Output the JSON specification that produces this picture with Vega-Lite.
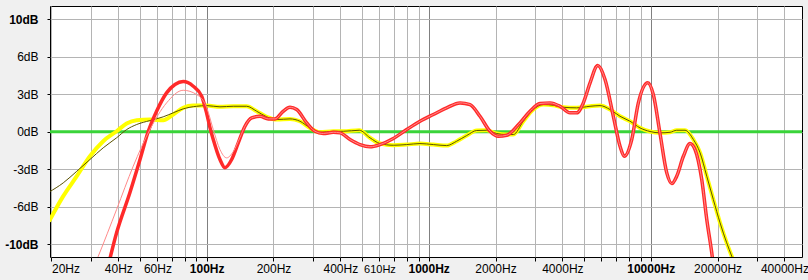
{
  "$schema": "https://vega.github.io/schema/vega-lite/v6.json",
  "width": 752,
  "height": 251,
  "autosize": {"type": "none"},
  "padding": {"left": 50, "top": 6, "right": 6, "bottom": 23},
  "background": "#f0f0f0",
  "view": {"fill": "white", "stroke": "black", "strokeWidth": 1},
  "config": {"font": "Liberation Sans"},
  "datasets": {
    "zero": [{"db": 0}],
    "curves": [
      {"s": "yellow", "f": 19.5, "db": -7.95}, {"s": "yellow", "f": 22.6, "db": -5.71}, {"s": "yellow", "f": 26.0, "db": -3.94}, {"s": "yellow", "f": 29.8, "db": -2.17}, {"s": "yellow", "f": 34.2, "db": -0.83}, {"s": "yellow", "f": 39.3, "db": 0.05}, {"s": "yellow", "f": 43.6, "db": 0.74}, {"s": "yellow", "f": 48.4, "db": 1.03}, {"s": "yellow", "f": 55.5, "db": 1.09}, {"s": "yellow", "f": 63.7, "db": 1.03}, {"s": "yellow", "f": 70.7, "db": 1.54}, {"s": "yellow", "f": 78.4, "db": 2.13}, {"s": "yellow", "f": 87.0, "db": 2.33}, {"s": "yellow", "f": 100, "db": 2.33}, {"s": "yellow", "f": 114.8, "db": 2.22}, {"s": "yellow", "f": 131.8, "db": 2.27}, {"s": "yellow", "f": 151.4, "db": 2.27}, {"s": "yellow", "f": 168.0, "db": 1.83}, {"s": "yellow", "f": 186.4, "db": 1.33}, {"s": "yellow", "f": 206.7, "db": 1.09}, {"s": "yellow", "f": 237.3, "db": 1.15}, {"s": "yellow", "f": 263.2, "db": 0.94}, {"s": "yellow", "f": 292.0, "db": 0.35}, {"s": "yellow", "f": 323.9, "db": -0.04}, {"s": "yellow", "f": 371.8, "db": 0.05}, {"s": "yellow", "f": 412.5, "db": 0.05}, {"s": "yellow", "f": 486.8, "db": 0.14}, {"s": "yellow", "f": 544, "db": -0.53}, {"s": "yellow", "f": 603.5, "db": -1.04}, {"s": "yellow", "f": 692.8, "db": -1.19}, {"s": "yellow", "f": 796, "db": -1.13}, {"s": "yellow", "f": 913.9, "db": -1.04}, {"s": "yellow", "f": 1049, "db": -1.13}, {"s": "yellow", "f": 1205, "db": -1.22}, {"s": "yellow", "f": 1337, "db": -0.83}, {"s": "yellow", "f": 1483, "db": -0.33}, {"s": "yellow", "f": 1645, "db": 0.12}, {"s": "yellow", "f": 1825, "db": 0.14}, {"s": "yellow", "f": 2025, "db": -0.15}, {"s": "yellow", "f": 2246, "db": -0.24}, {"s": "yellow", "f": 2405, "db": -0.24}, {"s": "yellow", "f": 2668, "db": 0.94}, {"s": "yellow", "f": 2960, "db": 1.98}, {"s": "yellow", "f": 3284, "db": 2.42}, {"s": "yellow", "f": 3642, "db": 2.36}, {"s": "yellow", "f": 4040, "db": 2.18}, {"s": "yellow", "f": 4642, "db": 2.13}, {"s": "yellow", "f": 5330, "db": 2.27}, {"s": "yellow", "f": 5911, "db": 2.33}, {"s": "yellow", "f": 6557, "db": 1.98}, {"s": "yellow", "f": 7272, "db": 1.38}, {"s": "yellow", "f": 8068, "db": 0.94}, {"s": "yellow", "f": 8949, "db": 0.35}, {"s": "yellow", "f": 9927, "db": 0.03}, {"s": "yellow", "f": 11010, "db": -0.09}, {"s": "yellow", "f": 12220, "db": -0.04}, {"s": "yellow", "f": 13090, "db": 0.14}, {"s": "yellow", "f": 14270, "db": 0.14}, {"s": "yellow", "f": 15560, "db": -0.68}, {"s": "yellow", "f": 16680, "db": -1.86}, {"s": "yellow", "f": 17880, "db": -3.94}, {"s": "yellow", "f": 19140, "db": -6.01}, {"s": "yellow", "f": 20520, "db": -8.07}, {"s": "yellow", "f": 21990, "db": -9.85}, {"s": "yellow", "f": 23170, "db": -11.04}, {"s": "yellow", "f": 24220, "db": -12.0},

      {"s": "olive", "f": 19.5, "db": -5.35}, {"s": "olive", "f": 22.6, "db": -4.53}, {"s": "olive", "f": 26.0, "db": -3.50}, {"s": "olive", "f": 29.8, "db": -2.46}, {"s": "olive", "f": 34.2, "db": -1.42}, {"s": "olive", "f": 39.3, "db": -0.53}, {"s": "olive", "f": 43.6, "db": 0.20}, {"s": "olive", "f": 48.4, "db": 0.65}, {"s": "olive", "f": 55.5, "db": 1.00}, {"s": "olive", "f": 63.7, "db": 1.33}, {"s": "olive", "f": 70.7, "db": 1.69}, {"s": "olive", "f": 78.4, "db": 2.04}, {"s": "olive", "f": 90.2, "db": 2.27}, {"s": "olive", "f": 100, "db": 2.33}, {"s": "olive", "f": 114.8, "db": 2.22}, {"s": "olive", "f": 131.8, "db": 2.27}, {"s": "olive", "f": 151.4, "db": 2.27}, {"s": "olive", "f": 168.0, "db": 1.83}, {"s": "olive", "f": 186.4, "db": 1.33}, {"s": "olive", "f": 206.7, "db": 1.09}, {"s": "olive", "f": 237.3, "db": 1.15}, {"s": "olive", "f": 263.2, "db": 0.94}, {"s": "olive", "f": 292.0, "db": 0.35}, {"s": "olive", "f": 323.9, "db": -0.04}, {"s": "olive", "f": 371.8, "db": 0.05}, {"s": "olive", "f": 412.5, "db": 0.05}, {"s": "olive", "f": 486.8, "db": 0.14}, {"s": "olive", "f": 544, "db": -0.53}, {"s": "olive", "f": 603.5, "db": -1.04}, {"s": "olive", "f": 692.8, "db": -1.19}, {"s": "olive", "f": 796, "db": -1.13}, {"s": "olive", "f": 913.9, "db": -1.04}, {"s": "olive", "f": 1049, "db": -1.13}, {"s": "olive", "f": 1205, "db": -1.22}, {"s": "olive", "f": 1337, "db": -0.83}, {"s": "olive", "f": 1483, "db": -0.33}, {"s": "olive", "f": 1645, "db": 0.12}, {"s": "olive", "f": 1825, "db": 0.14}, {"s": "olive", "f": 2025, "db": -0.15}, {"s": "olive", "f": 2246, "db": -0.24}, {"s": "olive", "f": 2405, "db": -0.24}, {"s": "olive", "f": 2668, "db": 0.94}, {"s": "olive", "f": 2960, "db": 1.98}, {"s": "olive", "f": 3284, "db": 2.42}, {"s": "olive", "f": 3642, "db": 2.36}, {"s": "olive", "f": 4040, "db": 2.18}, {"s": "olive", "f": 4642, "db": 2.13}, {"s": "olive", "f": 5330, "db": 2.27}, {"s": "olive", "f": 5911, "db": 2.33}, {"s": "olive", "f": 6557, "db": 1.98}, {"s": "olive", "f": 7272, "db": 1.38}, {"s": "olive", "f": 8068, "db": 0.94}, {"s": "olive", "f": 8949, "db": 0.35}, {"s": "olive", "f": 9927, "db": 0.03}, {"s": "olive", "f": 11010, "db": -0.09}, {"s": "olive", "f": 12220, "db": -0.04}, {"s": "olive", "f": 13090, "db": 0.14}, {"s": "olive", "f": 14270, "db": 0.14}, {"s": "olive", "f": 15560, "db": -0.68}, {"s": "olive", "f": 16680, "db": -1.86}, {"s": "olive", "f": 17880, "db": -3.94}, {"s": "olive", "f": 19140, "db": -6.01}, {"s": "olive", "f": 20520, "db": -8.07}, {"s": "olive", "f": 21990, "db": -9.85}, {"s": "olive", "f": 23170, "db": -11.04}, {"s": "olive", "f": 24220, "db": -12.0},

      {"s": "red", "f": 35.9, "db": -12.0}, {"s": "red", "f": 39.3, "db": -8.96}, {"s": "red", "f": 45.1, "db": -5.41}, {"s": "red", "f": 50.1, "db": -2.46}, {"s": "red", "f": 54.6, "db": 0.05}, {"s": "red", "f": 59.5, "db": 1.83}, {"s": "red", "f": 66.0, "db": 3.46}, {"s": "red", "f": 72.0, "db": 4.20}, {"s": "red", "f": 78.4, "db": 4.46}, {"s": "red", "f": 87.0, "db": 4.05}, {"s": "red", "f": 95.0, "db": 3.16}, {"s": "red", "f": 100, "db": 1.65}, {"s": "red", "f": 103.5, "db": 0.38}, {"s": "red", "f": 107.1, "db": -0.68}, {"s": "red", "f": 114.8, "db": -2.46}, {"s": "red", "f": 120.9, "db": -3.19}, {"s": "red", "f": 129.6, "db": -2.46}, {"s": "red", "f": 138.8, "db": -0.98}, {"s": "red", "f": 148.8, "db": 0.50}, {"s": "red", "f": 159.5, "db": 1.24}, {"s": "red", "f": 173.9, "db": 1.38}, {"s": "red", "f": 189.4, "db": 1.15}, {"s": "red", "f": 203.1, "db": 1.15}, {"s": "red", "f": 221.3, "db": 1.83}, {"s": "red", "f": 237.3, "db": 2.18}, {"s": "red", "f": 254.3, "db": 1.98}, {"s": "red", "f": 282.2, "db": 0.80}, {"s": "red", "f": 307.5, "db": 0.05}, {"s": "red", "f": 335.2, "db": -0.15}, {"s": "red", "f": 371.8, "db": -0.04}, {"s": "red", "f": 398.6, "db": -0.09}, {"s": "red", "f": 442.1, "db": -0.68}, {"s": "red", "f": 490.3, "db": -1.13}, {"s": "red", "f": 544, "db": -1.33}, {"s": "red", "f": 603.5, "db": -1.13}, {"s": "red", "f": 692.8, "db": -0.59}, {"s": "red", "f": 796, "db": 0.20}, {"s": "red", "f": 913.9, "db": 0.94}, {"s": "red", "f": 1049, "db": 1.54}, {"s": "red", "f": 1205, "db": 2.13}, {"s": "red", "f": 1384, "db": 2.57}, {"s": "red", "f": 1535, "db": 2.42}, {"s": "red", "f": 1702, "db": 1.38}, {"s": "red", "f": 1889, "db": 0.05}, {"s": "red", "f": 2059, "db": -0.39}, {"s": "red", "f": 2246, "db": -0.30}, {"s": "red", "f": 2578, "db": 0.80}, {"s": "red", "f": 2860, "db": 1.83}, {"s": "red", "f": 3172, "db": 2.51}, {"s": "red", "f": 3519, "db": 2.57}, {"s": "red", "f": 3903, "db": 2.27}, {"s": "red", "f": 4330, "db": 1.69}, {"s": "red", "f": 4642, "db": 1.69}, {"s": "red", "f": 4971, "db": 2.57}, {"s": "red", "f": 5330, "db": 4.35}, {"s": "red", "f": 5772, "db": 5.88}, {"s": "red", "f": 6225, "db": 4.64}, {"s": "red", "f": 6786, "db": 1.38}, {"s": "red", "f": 7272, "db": -1.28}, {"s": "red", "f": 7604, "db": -2.17}, {"s": "red", "f": 8212, "db": -0.68}, {"s": "red", "f": 8794, "db": 2.57}, {"s": "red", "f": 9700, "db": 4.35}, {"s": "red", "f": 10270, "db": 3.31}, {"s": "red", "f": 11010, "db": -0.15}, {"s": "red", "f": 11810, "db": -3.64}, {"s": "red", "f": 12440, "db": -4.59}, {"s": "red", "f": 13090, "db": -3.94}, {"s": "red", "f": 14030, "db": -2.17}, {"s": "red", "f": 15030, "db": -1.04}, {"s": "red", "f": 15830, "db": -1.57}, {"s": "red", "f": 16970, "db": -4.23}, {"s": "red", "f": 17880, "db": -7.78}, {"s": "red", "f": 18830, "db": -10.74}, {"s": "red", "f": 19490, "db": -13.0},

      {"s": "pink", "f": 30.7, "db": -12.2}, {"s": "pink", "f": 32.5, "db": -11.04}, {"s": "pink", "f": 39.3, "db": -6.89}, {"s": "pink", "f": 46.7, "db": -3.05}, {"s": "pink", "f": 55.5, "db": 0.20}, {"s": "pink", "f": 66.0, "db": 2.57}, {"s": "pink", "f": 78.4, "db": 3.69}, {"s": "pink", "f": 90.2, "db": 3.31}, {"s": "pink", "f": 100, "db": 2.16}, {"s": "pink", "f": 107.1, "db": 0.20}, {"s": "pink", "f": 114.8, "db": -1.57}, {"s": "pink", "f": 123.0, "db": -2.31}, {"s": "pink", "f": 131.8, "db": -1.75}, {"s": "pink", "f": 141.3, "db": -0.50}, {"s": "pink", "f": 148.8, "db": 0.50}, {"s": "pink", "f": 159.5, "db": 1.24}, {"s": "pink", "f": 173.9, "db": 1.38}, {"s": "pink", "f": 189.4, "db": 1.15}, {"s": "pink", "f": 203.1, "db": 1.15}, {"s": "pink", "f": 221.3, "db": 1.83}, {"s": "pink", "f": 237.3, "db": 2.18}, {"s": "pink", "f": 254.3, "db": 1.98}, {"s": "pink", "f": 282.2, "db": 0.80}, {"s": "pink", "f": 307.5, "db": 0.05}, {"s": "pink", "f": 335.2, "db": -0.15}, {"s": "pink", "f": 371.8, "db": -0.04}, {"s": "pink", "f": 398.6, "db": -0.09}, {"s": "pink", "f": 442.1, "db": -0.68}, {"s": "pink", "f": 490.3, "db": -1.13}, {"s": "pink", "f": 544, "db": -1.33}, {"s": "pink", "f": 603.5, "db": -1.13}, {"s": "pink", "f": 692.8, "db": -0.59}, {"s": "pink", "f": 796, "db": 0.20}, {"s": "pink", "f": 913.9, "db": 0.94}, {"s": "pink", "f": 1049, "db": 1.54}, {"s": "pink", "f": 1205, "db": 2.13}, {"s": "pink", "f": 1384, "db": 2.57}, {"s": "pink", "f": 1535, "db": 2.42}, {"s": "pink", "f": 1702, "db": 1.38}, {"s": "pink", "f": 1889, "db": 0.05}, {"s": "pink", "f": 2059, "db": -0.39}, {"s": "pink", "f": 2246, "db": -0.30}, {"s": "pink", "f": 2578, "db": 0.80}, {"s": "pink", "f": 2860, "db": 1.83}, {"s": "pink", "f": 3172, "db": 2.51}, {"s": "pink", "f": 3519, "db": 2.57}, {"s": "pink", "f": 3903, "db": 2.27}, {"s": "pink", "f": 4330, "db": 1.69}, {"s": "pink", "f": 4642, "db": 1.69}, {"s": "pink", "f": 4971, "db": 2.57}, {"s": "pink", "f": 5330, "db": 4.35}, {"s": "pink", "f": 5772, "db": 5.88}, {"s": "pink", "f": 6225, "db": 4.64}, {"s": "pink", "f": 6786, "db": 1.38}, {"s": "pink", "f": 7272, "db": -1.28}, {"s": "pink", "f": 7604, "db": -2.17}, {"s": "pink", "f": 8212, "db": -0.68}, {"s": "pink", "f": 8794, "db": 2.57}, {"s": "pink", "f": 9700, "db": 4.35}, {"s": "pink", "f": 10270, "db": 3.31}, {"s": "pink", "f": 11010, "db": -0.15}, {"s": "pink", "f": 11810, "db": -3.64}, {"s": "pink", "f": 12440, "db": -4.59}, {"s": "pink", "f": 13090, "db": -3.94}, {"s": "pink", "f": 14030, "db": -2.17}, {"s": "pink", "f": 15030, "db": -1.04}, {"s": "pink", "f": 15830, "db": -1.57}, {"s": "pink", "f": 16970, "db": -4.23}, {"s": "pink", "f": 17880, "db": -7.78}, {"s": "pink", "f": 18830, "db": -10.74}, {"s": "pink", "f": 19490, "db": -13.0}
    ]
  },
  "layer": [
    {
      "data": {"name": "zero"},
      "mark": {"type": "rule", "color": "#3ad43a", "strokeWidth": 3},
      "encoding": {
        "y": {"field": "db", "type": "quantitative", "scale": {"domain": [-11.11, 11.17], "nice": false, "zero": false}}
      }
    },
    {
      "data": {"name": "curves"},
      "transform": [{"filter": "datum.s == 'yellow'"}],
      "mark": {"type": "line", "color": "#ffff00", "strokeWidth": 4, "interpolate": "monotone", "clip": true},
      "encoding": {
        "x": {
          "field": "f", "type": "quantitative",
          "scale": {"type": "log", "domain": [19.7, 48000], "nice": false},
          "axis": {
            "title": null,
            "values": [20, 30, 40, 50, 60, 70, 80, 90, 100, 200, 300, 400, 500, 600, 700, 800, 900, 1000, 2000, 3000, 4000, 5000, 6000, 7000, 8000, 9000, 10000, 20000, 30000, 40000],
            "labelExpr": "datum.value == 600 ? '610Hz' : (indexof([20, 40, 60, 100, 200, 400, 1000, 2000, 4000, 10000, 20000, 40000], datum.value) >= 0 ? datum.value + 'Hz' : '')",
            "grid": true,
            "gridColor": {"condition": {"test": "datum.value == 100 || datum.value == 1000 || datum.value == 10000", "value": "#808080"}, "value": "#b4b4b4"},
            "gridWidth": 1,
            "domain": false,
            "tickColor": "#000000",
            "tickSize": 4,
            "labelColor": "#000000",
            "labelFont": "Liberation Sans",
            "labelFontSize": {"condition": {"test": "datum.value == 600", "value": 11}, "value": 12},
            "labelFontWeight": {"condition": {"test": "datum.value == 100 || datum.value == 1000 || datum.value == 10000", "value": "bold"}, "value": "normal"},
            "labelPadding": 2,
            "labelOverlap": false,
            "labelFlush": 5,
            "labelBound": false
          }
        },
        "y": {
          "field": "db", "type": "quantitative",
          "scale": {"domain": [-11.11, 11.17], "nice": false, "zero": false},
          "axis": {
            "title": null,
            "values": [-10, -6.6667, -3.3333, 0, 3.3333, 6.6667, 10],
            "labelExpr": "(datum.value < 0 ? '-' : '') + floor(abs(datum.value) + 0.01) + 'dB'",
            "grid": true,
            "gridColor": "#b4b4b4",
            "domain": false,
            "tickColor": "#000000",
            "tickSize": 3,
            "labelColor": "#000000",
            "labelFont": "Liberation Sans",
            "labelFontSize": 12,
            "labelFontWeight": {"condition": {"test": "abs(datum.value) > 9", "value": "bold"}, "value": "normal"},
            "labelPadding": 9,
            "labelOverlap": false
          }
        }
      }
    },
    {
      "data": {"name": "curves"},
      "transform": [{"filter": "datum.s == 'olive'"}],
      "mark": {"type": "line", "color": "#5a5200", "strokeWidth": 1, "interpolate": "monotone", "clip": true},
      "encoding": {
        "x": {"field": "f", "type": "quantitative"},
        "y": {"field": "db", "type": "quantitative"}
      }
    },
    {
      "data": {"name": "curves"},
      "transform": [{"filter": "datum.s == 'red'"}],
      "mark": {"type": "line", "color": "#ff2a2a", "strokeWidth": 3.5, "interpolate": "monotone", "clip": true},
      "encoding": {
        "x": {"field": "f", "type": "quantitative"},
        "y": {"field": "db", "type": "quantitative"}
      }
    },
    {
      "data": {"name": "curves"},
      "transform": [{"filter": "datum.s == 'pink'"}],
      "mark": {"type": "line", "color": "#ff8a8a", "strokeWidth": 1, "interpolate": "monotone", "clip": true},
      "encoding": {
        "x": {"field": "f", "type": "quantitative"},
        "y": {"field": "db", "type": "quantitative"}
      }
    }
  ]
}
